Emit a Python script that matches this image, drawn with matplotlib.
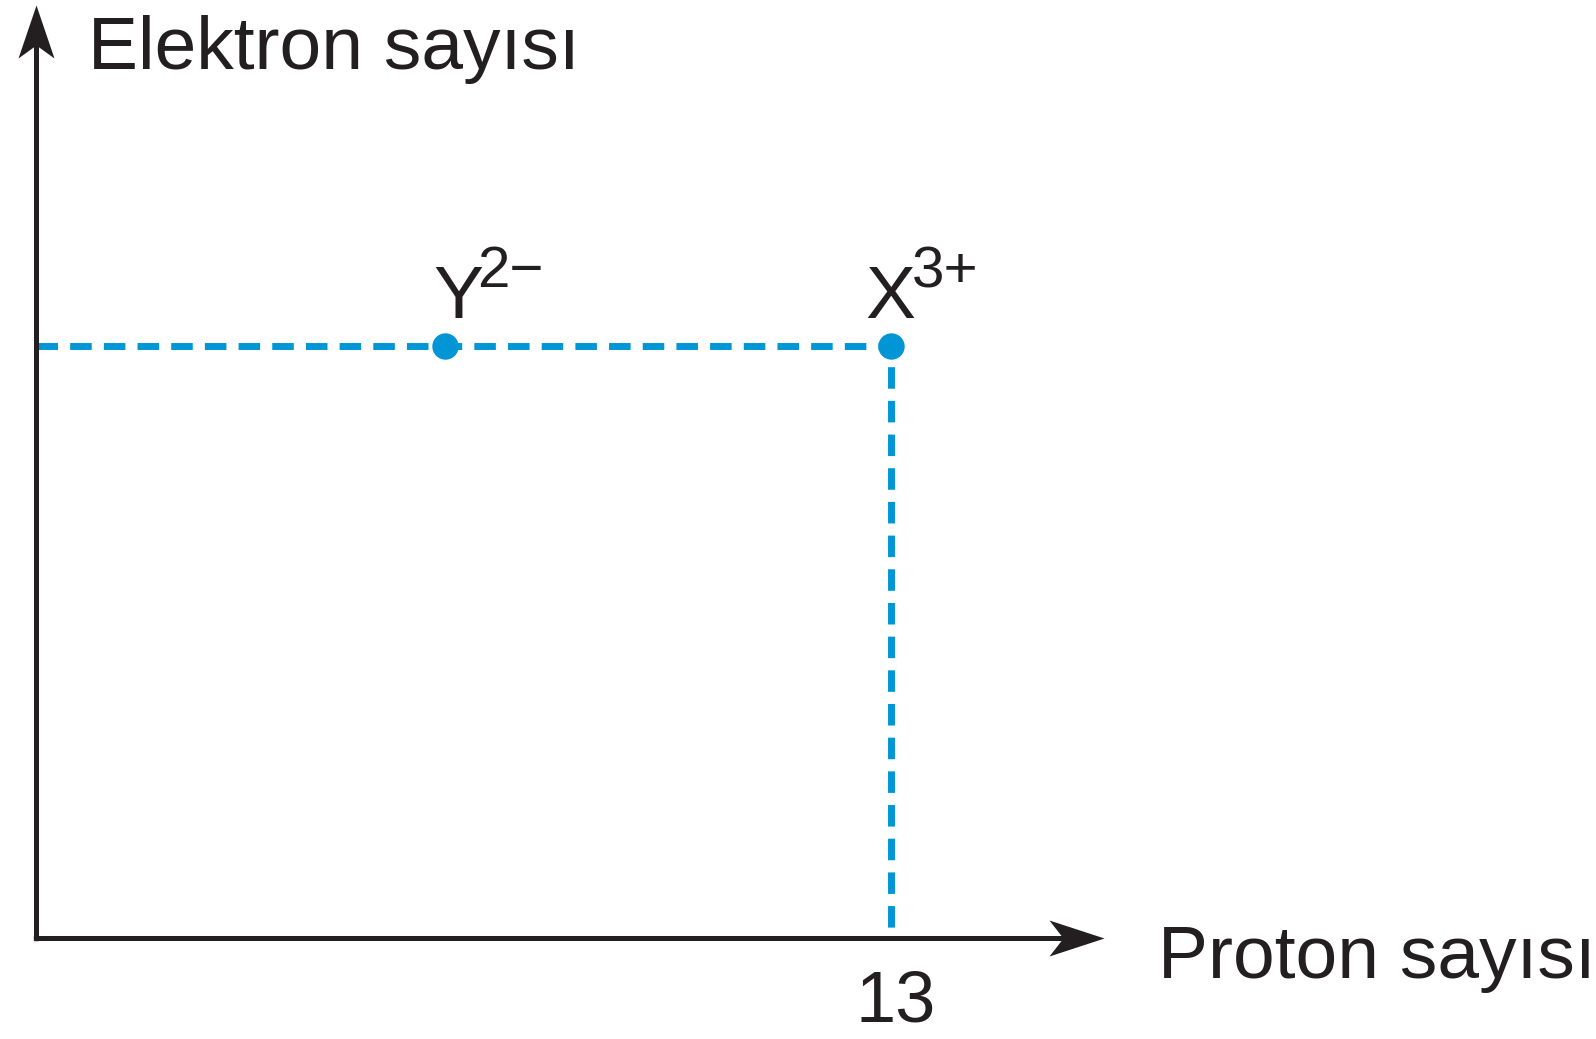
import numpy as np
import matplotlib.pyplot as plt
from matplotlib.path import Path

# ions: name, charge, proton count (position as drawn), electron count
ions = ["Y", "X"]
charges = ["2\u2212", "3+"]
protons = [6.22, 13]
electrons = [10, 10]
x_ticks = [13]
x_label = "Proton sayısı"
y_label = "Elektron sayısı"

ink = "#231F20"
blue = "#0096D6"

plt.rcParams['font.family'] = ['Liberation Sans', 'DejaVu Sans']

fig = plt.figure(figsize=(15.96, 10.39), dpi=100)
ax = fig.add_axes([0, 0, 1, 1])
ax.set_xlim(-0.541, 23.71)
ax.set_ylim(-1.716, 15.85)
ax.axis("off")

# axis lines
x_end, y_end = 16.24, 15.77
ax.plot([0, x_end - 0.5], [0, 0], color=ink, lw=3.6, solid_capstyle="butt", zorder=3)
ax.plot([0, 0], [0, y_end - 0.5], color=ink, lw=3.6, solid_capstyle="butt", zorder=3)
ax.plot([0], [0], marker="s", ms=2.6, color=ink, zorder=3)

# notched arrow heads (tip at origin of marker)
head_r = Path([(0, 0), (-55, -18), (-41, 0), (-55, 18), (0, 0)],
              [Path.MOVETO, Path.LINETO, Path.LINETO, Path.LINETO, Path.CLOSEPOLY])
head_u = Path([(0, 0), (-18, -53), (0, -40), (18, -53), (0, 0)],
              [Path.MOVETO, Path.LINETO, Path.LINETO, Path.LINETO, Path.CLOSEPOLY])
# marker paths are rescaled so the largest |coord| -> 0.5
ax.plot([x_end], [0], marker=head_r, ms=2 * 55 * 0.72, color=ink, mew=0, zorder=4)
ax.plot([0], [y_end], marker=head_u, ms=2 * 53 * 0.72, color=ink, mew=0, zorder=4)

# axis labels
ax.annotate(y_label, xy=(0, y_end), xytext=(52, -64), textcoords="offset pixels",
            fontsize=54, color=ink, ha="left", va="baseline")
ax.annotate(x_label, xy=(x_end, 0), xytext=(54, -40), textcoords="offset pixels",
            fontsize=54, color=ink, ha="left", va="baseline")
for t in x_ticks:
    ax.annotate(str(t), xy=(t, 0), xytext=(5, -84), textcoords="offset pixels",
                fontsize=52, color=ink, ha="center", va="baseline")

# guide lines
ax.plot([0, protons[1], protons[1]], [electrons[1], electrons[1], 0], color=blue,
        lw=5, dashes=(3.1, 1.75), dash_capstyle="butt", zorder=2)

# points
ax.plot(protons, electrons, "o", color=blue, ms=19, mew=0, zorder=5)

label_dx = [-12, -26]
sup_dx = [32, 21]
for name, ch, px, py, dx, sdx in zip(ions, charges, protons, electrons, label_dx, sup_dx):
    ax.annotate(name, xy=(px, py), xytext=(dx, 28), textcoords="offset pixels",
                fontsize=54, color=ink, ha="left", va="baseline")
    ax.annotate(ch, xy=(px, py), xytext=(sdx, 59), textcoords="offset pixels",
                fontsize=42, color=ink, ha="left", va="baseline")

fig.savefig("out.png", dpi=100, facecolor="white")
